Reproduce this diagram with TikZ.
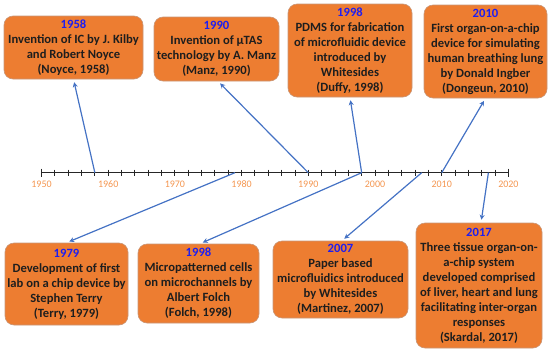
\documentclass[tikz,border=0pt]{standalone}
\usepackage{fontspec}
\setmainfont{Carlito}
\usetikzlibrary{arrows.meta}
\definecolor{boxorange}{RGB}{237,125,49}
\definecolor{boxedge}{RGB}{200,150,120}
\definecolor{yearblue}{RGB}{30,30,240}
\definecolor{arrowblue}{RGB}{68,114,196}
\definecolor{labelorange}{RGB}{244,150,80}
\definecolor{txt}{RGB}{30,30,30}
\tikzset{
  evbox/.style={draw=boxedge, line width=0.6pt, fill=boxorange, rounded corners=9pt,
    align=center, inner sep=2pt, font=\fontsize{12.6}{15}\selectfont\bfseries, text=txt},
  conn/.style={arrowblue, line width=1.2pt, shorten >=3pt, -{Stealth[length=5pt,width=5pt]}},
  axislabel/.style={text=labelorange, font=\fontsize{10}{11}\selectfont}
}
\newcommand{\Y}[1]{{\color{yearblue}#1}}
\begin{document}
\begin{tikzpicture}[x=1pt,y=-1pt]
\useasboundingbox (0,0) rectangle (550,354);
% axis
\def\xa{41.5}\def\sc{6.67}\def\ay{172.7}
\draw[line width=1.3pt, black!85] (\xa,\ay) -- (\xa+70*\sc,\ay);
\foreach \i in {0,2,...,70}{
  \draw[line width=0.9pt, black!85] (\xa+\i*\sc,\ay-3) -- (\xa+\i*\sc,\ay+3);
}
\draw[line width=1pt, black!85] (\xa,\ay-4) -- (\xa,\ay+4);
\draw[line width=1pt, black!85] (\xa+70*\sc,\ay-4) -- (\xa+70*\sc,\ay+4);
\foreach \i/\l in {0/1950,10/1960,20/1970,30/1980,40/1990,50/2000,60/2010,70/2020}{
  \node[axislabel] (lab\l) at (\xa+\i*\sc,184.5) {\l};
}
% timeline points
\coordinate (t1958) at (\xa+8*\sc,\ay);
\coordinate (t1979) at (\xa+29*\sc,\ay);
\coordinate (t1990) at (\xa+40*\sc,\ay);
\coordinate (t1998) at (\xa+48*\sc,\ay);
\coordinate (t2007) at (\xa+57*\sc,\ay);
\coordinate (t2010) at (\xa+60*\sc,\ay);
\coordinate (t2017) at (\xa+67*\sc,\ay);
% boxes
\node[evbox, minimum width=139pt, minimum height=63pt] (b1958) at (73.5,47.5)
  {\Y{1958}\\Invention of IC by J. Kilby\\and Robert Noyce\\(Noyce, 1958)};
\node[evbox, minimum width=125pt, minimum height=64pt] (b1990) at (216.5,49)
  {\Y{1990}\\Invention of µTAS\\technology by A. Manz\\(Manz, 1990)};
\node[evbox, minimum width=124pt, minimum height=93pt] (b1998a) at (350,50.5)
  {\Y{1998}\\PDMS for fabrication\\of microfluidic device\\introduced by\\Whitesides\\(Duffy, 1998)};
\node[evbox, minimum width=123pt, minimum height=93pt] (b2010) at (485.5,51.5)
  {\Y{2010}\\First organ-on-a-chip\\device for simulating\\human breathing lung\\by Donald Ingber\\(Dongeun, 2010)};
\node[evbox, minimum width=123pt, minimum height=82pt] (b1979) at (66.5,284)
  {\Y{1979}\\Development of first\\lab on a chip device by\\Stephen Terry\\(Terry, 1979)};
\node[evbox, minimum width=121pt, minimum height=79pt] (b1998b) at (198.5,283.5)
  {\Y{1998}\\Micropatterned cells\\on microchannels by\\Albert Folch\\(Folch, 1998)};
\node[evbox, minimum width=135pt, minimum height=77pt] (b2007) at (340.5,279.5)
  {\Y{2007}\\Paper based\\microfluidics introduced\\by Whitesides\\(Martinez, 2007)};
\node[evbox, minimum width=126pt, minimum height=125pt] (b2017) at (479,285.5)
  {\Y{2017}\\Three tissue organ-on-\\a-chip system\\developed comprised\\of liver, heart and lung\\facilitating inter-organ\\responses\\(Skardal, 2017)};
% connectors
\draw[conn] (t1958) -- (b1958.south);
\draw[conn] (t1990) -- ([xshift=1.5pt]b1990.south);
\draw[conn] (t1998) -- (b1998a.south);
\draw[conn] (t2010) -- (b2010.south);
\draw[conn] (t1979) -- (b1979.north);
\draw[conn] (t1998) -- ([xshift=1.5pt]b1998b.north);
\draw[conn] (t2007) -- ([xshift=1.5pt]b2007.north);
\draw[conn] (t2017) -- ([xshift=2pt]b2017.north);
\end{tikzpicture}
\end{document}
